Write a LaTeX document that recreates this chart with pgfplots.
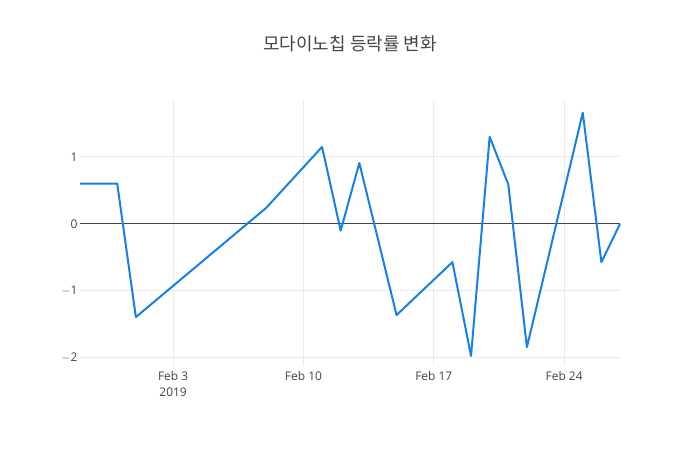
\documentclass[border=0pt]{standalone}
\usepackage{fontspec}
\setmainfont{Open Sans}
\newfontfamily\kr{Noto Sans CJK KR}
\usepackage{pgfplots}
\pgfplotsset{compat=1.18}
\definecolor{lineblue}{RGB}{22,128,232}
\definecolor{ticktext}{RGB}{68,68,68}
\definecolor{gridgray}{RGB}{235,235,235}

% x = days since Jan 29, 2019
\pgfplotstableread{
d    v
0    0.60
2    0.60
3   -1.39
10   0.24
13   1.15
14  -0.10
15   0.91
17  -1.36
20  -0.57
21  -1.97
22   1.30
23   0.59
24  -1.84
27   1.66
28  -0.57
29   0.00
}\rates

\begin{document}
\begin{tikzpicture}[x=1bp,y=1bp]
\useasboundingbox (-80,-84) rectangle (620,366);
\begin{axis}[
    at={(0,0)}, anchor=south west,
    scale only axis,
    width=540bp, height=266bp,
    xmin=0, xmax=29,
    ymin=-2.12, ymax=1.85,
    axis line style={draw=none},
    tick style={draw=none},
    xtick={5,12,19,26},
    xticklabels={Feb 3\\2019, Feb 10, Feb 17, Feb 24},
    xticklabel style={align=center, font=\fontsize{12}{16}\selectfont, text=ticktext, yshift=-2bp},
    ytick={-2,-1,0,1},
    yticklabels={$-$2,$-$1,0,1},
    yticklabel style={font=\fontsize{12}{14}\selectfont, text=ticktext, xshift=1bp},
    grid=major,
    major grid style={gridgray, line width=1bp},
    /pgf/number format/assume math mode=true,
    clip=false,
]
\draw[ticktext, line width=1bp] (axis cs:0,0) -- (axis cs:29,0);
\addplot[lineblue, line width=2bp, no marks, line join=round] table[x=d, y=v] {\rates};
\end{axis}
\node[text=ticktext, font=\kr\fontsize{18}{21}\selectfont] at (270,322) {모다이노칩 등락률 변화};
\end{tikzpicture}
\end{document}
